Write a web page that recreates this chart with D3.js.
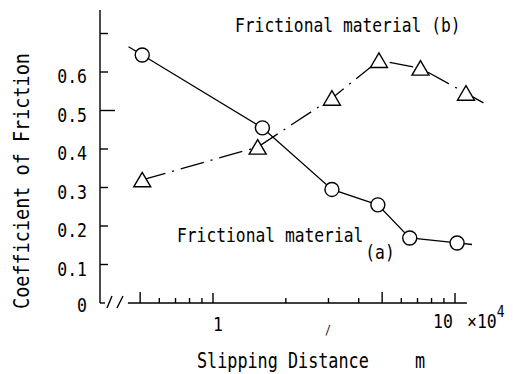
<!DOCTYPE html>
<html>
<head>
<meta charset="utf-8">
<script src="https://cdn.jsdelivr.net/npm/d3@7"></script>
<style>
  body { margin: 0; background: #fff; }
  text { font-family: "DejaVu Sans Mono", monospace; fill: #000; }
</style>
</head>
<body>
<svg id="chart" width="513" height="374"></svg>
<script>
// slipping distance is in units of 10^4 m
var distA = [0.51, 1.6, 3.1, 4.8, 6.5, 10.2];
var frictionA = [0.644, 0.455, 0.295, 0.255, 0.169, 0.156];
var distB = [0.51, 1.53, 3.1, 4.85, 7.2, 11.1];
var frictionB = [0.32, 0.405, 0.532, 0.63, 0.61, 0.545];

var yTicks = [0.1, 0.2, 0.3, 0.4, 0.5, 0.6, 0.7];
var yLabels = ["0", "0.1", "0.2", "0.3", "0.4", "0.5", "0.6"];
var xMajor = [1, 10];
var xMid = [0.5, 5];
var xMinor = [0.6, 0.7, 0.8, 0.9, 2, 3, 4, 6, 7, 8, 9];

var svg = d3.select("#chart");

var x = d3.scaleLog().domain([1, 10]).range([213, 455]);
var y = d3.scaleLinear().domain([0, 0.7]).range([303, 33.5]);

var x0 = 100, yBase = y(0);

function label(px, py, str, size, anchor) {
  return svg.append("text")
    .attr("transform", "translate(" + px + "," + py + ") scale(1,1.22)")
    .attr("font-size", size)
    .attr("text-anchor", anchor || "start")
    .text(str);
}

var axes = svg.append("g").attr("stroke", "#000").attr("stroke-width", 1.4).attr("fill", "none");

// y axis
axes.append("line").attr("x1", x0).attr("x2", x0).attr("y1", 10).attr("y2", yBase);
axes.selectAll(".yt").data(yTicks).enter().append("line")
  .attr("x1", x0).attr("x2", function(d) { return x0 + (d === 0.5 ? 15 : 8); })
  .attr("y1", function(d) { return y(d); }).attr("y2", function(d) { return y(d); });

// x axis with break
axes.append("line").attr("x1", x0).attr("x2", 105).attr("y1", yBase).attr("y2", yBase);
axes.append("line").attr("x1", 107).attr("x2", 112).attr("y1", 308).attr("y2", 296);
axes.append("line").attr("x1", 117).attr("x2", 123).attr("y1", 308).attr("y2", 296);
axes.append("line").attr("x1", x(0.445)).attr("x2", x(11.2)).attr("y1", yBase).attr("y2", yBase);

function xTicks(vals, len) {
  axes.append("g").selectAll("line").data(vals).enter().append("line")
    .attr("x1", function(d) { return x(d); }).attr("x2", function(d) { return x(d); })
    .attr("y1", yBase).attr("y2", yBase - len);
}
xTicks(xMajor, 10);
xTicks(xMid, 11);
xTicks(xMinor, 5);

// y tick labels
yLabels.forEach(function(s, i) {
  label(87, y(i / 10) + (i === 0 ? 9 : 11), s, 16.5, "end");
});

// x tick labels
label(x(1) + 5, 331, "1", 16.5, "middle");
label(x(10) - 12, 328, "10", 16.5, "middle");
label(328, 334, "/", 10, "middle");
var unit = label(467, 328, "\u00d710", 16.5, "start");
unit.append("tspan").attr("dy", -9).attr("font-size", 13).text("4");

// axis titles
label(197, 368, "Slipping Distance", 16.8, "start");
label(420, 368, "m", 16.8, "middle");
svg.append("text")
  .attr("transform", "translate(29,181) rotate(-90) scale(1,1.15)")
  .attr("font-size", 18.5)
  .attr("text-anchor", "middle")
  .text("Coefficient of Friction");

// series labels
label(235, 32, "Frictional material (b)", 16.3, "start");
label(177, 242, "Frictional material", 16.3, "start");
label(380, 259, "(a)", 16.3, "middle");

// lines
function ext(p, q, len) {
  var dx = q[0] - p[0], dy = q[1] - p[1], l = Math.hypot(dx, dy);
  return [q[0] + dx / l * len, q[1] + dy / l * len];
}
var ptsA = distA.map(function(d, i) { return [x(d), y(frictionA[i])]; });
var ptsB = distB.map(function(d, i) { return [x(d), y(frictionB[i])]; });
var n = ptsA.length;
var lineA = [ext(ptsA[1], ptsA[0], 16)].concat(ptsA, [ext(ptsA[n - 2], ptsA[n - 1], 15)]);
var lineB = ptsB.concat([ext(ptsB[n - 2], ptsB[n - 1], 20)]);

var line = d3.line();
svg.append("path").attr("d", line(lineA))
  .attr("fill", "none").attr("stroke", "#000").attr("stroke-width", 1.3);
svg.append("path").attr("d", line(lineB))
  .attr("fill", "none").attr("stroke", "#000").attr("stroke-width", 1.3)
  .attr("stroke-dasharray", "24,7,2,7");

// markers
svg.selectAll(".ca").data(ptsA).enter().append("circle")
  .attr("cx", function(d) { return d[0]; }).attr("cy", function(d) { return d[1]; })
  .attr("r", 7).attr("fill", "#fff").attr("stroke", "#000").attr("stroke-width", 1.4);
svg.selectAll(".tb").data(ptsB).enter().append("path")
  .attr("d", "M0,-7.5L8.5,7L-8.5,7Z")
  .attr("transform", function(d) { return "translate(" + d[0] + "," + d[1] + ")"; })
  .attr("fill", "#fff").attr("stroke", "#000").attr("stroke-width", 1.4);
</script>
</body>
</html>
